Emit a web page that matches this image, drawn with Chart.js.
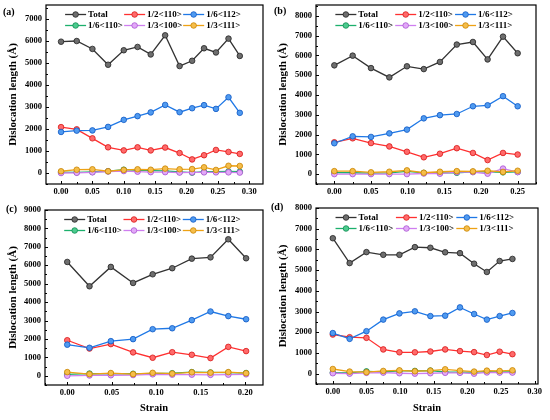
<!DOCTYPE html>
<html>
<head>
<meta charset="utf-8">
<script src="https://cdn.jsdelivr.net/npm/chart.js@4.4.1/dist/chart.umd.min.js"></script>
<style>
  html, body { margin: 0; padding: 0; background: #fff; }
  #wrap { position: relative; width: 550px; height: 420px; overflow: hidden; }
  canvas { position: absolute; }
  .tag { position: absolute; font: bold 10px "Liberation Serif", serif; line-height: 10px; color: #000; }
</style>
</head>
<body>
<div id="wrap">
  <canvas id="chartA" width="270" height="205" style="left:0;top:0"></canvas>
  <canvas id="chartB" width="280" height="205" style="left:270px;top:0"></canvas>
  <canvas id="chartC" width="270" height="220" style="left:0;top:200px"></canvas>
  <canvas id="chartD" width="280" height="220" style="left:270px;top:200px"></canvas>
  <div class="tag" style="left:3px;top:7px">(a)</div>
  <div class="tag" style="left:274px;top:6px">(b)</div>
  <div class="tag" style="left:6px;top:204px">(c)</div>
  <div class="tag" style="left:271px;top:202px">(d)</div>
</div>
<script>
const seriesNames = ['Total', '1/2<110>', '1/6<112>', '1/6<110>', '1/3<100>', '1/3<111>'];

// panel (a)
const strainA = [0, 0.025, 0.05, 0.075, 0.1, 0.122, 0.143, 0.166, 0.189, 0.209, 0.228, 0.247, 0.267, 0.285];
const totalA = [5980, 6010, 5650, 4930, 5590, 5740, 5400, 6270, 4870, 5110, 5680, 5490, 6120, 5330];
const perfectA = [2090, 1990, 1580, 1170, 1030, 1170, 1030, 1160, 910, 620, 810, 1050, 960, 870];
const shockleyA = [1870, 1930, 1940, 2100, 2420, 2590, 2760, 3100, 2770, 2950, 3090, 2920, 3450, 2740];
const stairRodA = [40, 30, 50, 80, 150, 120, 110, 100, 50, 20, 60, 60, 70, 60];
const hirthA = [0, 10, 30, 70, 90, 60, 40, 40, 20, 30, 30, 30, 30, 20];
const frankA = [80, 150, 170, 80, 140, 170, 150, 200, 170, 180, 260, 140, 330, 320];
const xTicksA = [0, 0.05, 0.10, 0.15, 0.20, 0.25, 0.30];
const yTicksA = [0, 1000, 2000, 3000, 4000, 5000, 6000, 7000];

// panel (b)
const strainB = [0, 0.025, 0.05, 0.075, 0.099, 0.122, 0.144, 0.167, 0.189, 0.209, 0.23, 0.25];
const totalB = [5500, 5990, 5360, 4890, 5450, 5310, 5670, 6550, 6680, 5800, 6950, 6110];
const perfectB = [1610, 1810, 1570, 1400, 1130, 850, 1030, 1310, 1070, 710, 1070, 990];
const shockleyB = [1560, 1910, 1880, 2060, 2250, 2820, 2980, 3040, 3430, 3480, 3940, 3430];
const stairRodB = [80, 70, 50, 60, 140, 60, 60, 70, 110, 120, 90, 110];
const hirthB = [0, 0, 0, 0, 0, 30, 20, 100, 100, 20, 280, 100];
const frankB = [150, 150, 90, 120, 190, 70, 120, 150, 140, 170, 110, 170];
const xTicksB = [0, 0.05, 0.10, 0.15, 0.20, 0.25];
const yTicksB = [0, 1000, 2000, 3000, 4000, 5000, 6000, 7000, 8000];

// panel (c)
const strainC = [0, 0.025, 0.049, 0.074, 0.096, 0.118, 0.14, 0.161, 0.181, 0.201];
const totalC = [6180, 4860, 5910, 5040, 5510, 5840, 6360, 6430, 7410, 6380];
const perfectC = [1930, 1480, 1720, 1270, 980, 1280, 1140, 960, 1570, 1340];
const shockleyC = [1690, 1520, 1880, 1990, 2530, 2580, 3020, 3490, 3240, 3070];
const stairRodC = [80, 120, 110, 110, 120, 140, 200, 180, 170, 150];
const hirthC = [0, 20, 30, 40, 80, 60, 60, 50, 60, 80];
const frankC = [200, 90, 150, 90, 160, 120, 190, 170, 200, 140];
const xTicksC = [0, 0.05, 0.10, 0.15, 0.20];
const yTicksC = [0, 1000, 2000, 3000, 4000, 5000, 6000, 7000, 8000, 9000];

// panel (d)
const strainD = [0, 0.025, 0.05, 0.075, 0.099, 0.122, 0.145, 0.167, 0.189, 0.21, 0.229, 0.248, 0.267];
const totalD = [6540, 5340, 5870, 5740, 5740, 6110, 6080, 5860, 5820, 5310, 4910, 5440, 5540];
const perfectD = [1890, 1760, 1730, 1170, 1030, 1030, 1070, 1170, 1090, 1040, 900, 1060, 940];
const shockleyD = [1960, 1680, 2050, 2610, 2910, 3010, 2780, 2800, 3200, 2880, 2610, 2780, 2930];
const stairRodD = [50, 40, 110, 80, 130, 130, 150, 80, 70, 70, 100, 80, 90];
const hirthD = [20, 0, 40, 50, 20, 0, 20, 40, 40, 0, 60, 50, 50];
const frankD = [225, 100, 70, 130, 160, 115, 145, 210, 145, 100, 145, 130, 160];
const xTicksD = [0, 0.05, 0.10, 0.15, 0.20, 0.25, 0.30];
const yTicksD = [0, 1000, 2000, 3000, 4000, 5000, 6000, 7000, 8000];

const styles = [
    { line: '#333333', fill: '#6e6e6e', edge: '#222222', order: 3 },
    { line: '#ff3030', fill: '#ff6a6a', edge: '#d81818', order: 4 },
    { line: '#1f78e6', fill: '#4f9af0', edge: '#0f58c4', order: 2 },
    { line: '#1cb06c', fill: '#4ccb8e', edge: '#0e8a50', order: 6 },
    { line: '#cf7ef0', fill: '#e2a8f8', edge: '#a855d0', order: 5 },
    { line: '#eea214', fill: '#f5bd4a', edge: '#c98400', order: 1 }
];

const serif = '"Liberation Serif", "Times New Roman", serif';
const tickFont = { family: serif, weight: 'bold', size: 8.5 };

// box round the plot plus small inward ticks (major and minor)
const framePlugin = {
    id: 'frame',
    afterDatasetsDraw(chart) {
        const { ctx, chartArea: a, scales: { x, y } } = chart;
        ctx.save();
        ctx.strokeStyle = '#000';
        ctx.lineWidth = 1.2;
        ctx.strokeRect(a.left, a.top, a.right - a.left, a.bottom - a.top);
        ctx.lineWidth = 1;
        ctx.beginPath();
        const xs = x.ticks.map(t => t.value);
        const xStep = xs[1] - xs[0];
        for (let v = xs[0] - xStep; v <= x.max; v += xStep / 2) {
            if (v < x.min) continue;
            const px = Math.round(x.getPixelForValue(v)) + 0.5;
            const major = Math.abs(Math.round(v / xStep) * xStep - v) < 1e-6;
            ctx.moveTo(px, a.bottom);
            ctx.lineTo(px, a.bottom - (major ? 3 : 2));
        }
        const ys = y.ticks.map(t => t.value);
        const yStep = ys[1] - ys[0];
        for (let v = ys[0] - yStep; v <= y.max; v += yStep / 2) {
            if (v < y.min) continue;
            const py = Math.round(y.getPixelForValue(v)) + 0.5;
            const major = Math.abs(Math.round(v / yStep) * yStep - v) < 1e-6;
            ctx.moveTo(a.left, py);
            ctx.lineTo(a.left + (major ? 3 : 2), py);
        }
        ctx.stroke();
        ctx.restore();
    }
};

// two-row legend inside the top of the plot
const legendPlugin = {
    id: 'innerLegend',
    afterDraw(chart) {
        const { ctx, chartArea: a } = chart;
        const w = a.right - a.left;
        const cols = [0.088, 0.36, 0.632];
        const rows = [9.5, 20.5];
        ctx.save();
        ctx.font = 'bold 9px ' + serif;
        ctx.textBaseline = 'middle';
        chart.data.datasets.forEach((ds, i) => {
            const x0 = a.left + cols[i % 3] * w;
            const y0 = a.top + rows[Math.floor(i / 3)];
            ctx.strokeStyle = ds.borderColor;
            ctx.lineWidth = 1.3;
            ctx.beginPath();
            ctx.moveTo(x0, y0);
            ctx.lineTo(x0 + 21, y0);
            ctx.stroke();
            ctx.beginPath();
            ctx.arc(x0 + 10.5, y0, 2.8, 0, Math.PI * 2);
            ctx.fillStyle = ds.pointBackgroundColor;
            ctx.fill();
            ctx.lineWidth = 0.8;
            ctx.strokeStyle = ds.pointBorderColor;
            ctx.stroke();
            ctx.fillStyle = '#000';
            ctx.fillText(ds.label, x0 + 23, y0 + 0.5);
        });
        ctx.restore();
    }
};

function makeChart(id, strain, series, xTicks, yTicks, g) {
    const ctx = document.getElementById(id).getContext('2d');
    return new Chart(ctx, {
        type: 'line',
        data: {
            datasets: series.map((vals, i) => ({
                label: seriesNames[i],
                data: strain.map((s, j) => ({ x: s, y: vals[j] })),
                borderColor: styles[i].line,
                borderWidth: 1.3,
                pointRadius: 2.8,
                pointBorderWidth: 0.8,
                pointBackgroundColor: styles[i].fill,
                pointBorderColor: styles[i].edge,
                tension: 0,
                order: styles[i].order
            }))
        },
        options: {
            responsive: false,
            animation: false,
            layout: {
                padding: { top: g.top, right: g.right, left: 0, bottom: 0 }
            },
            plugins: {
                legend: { display: false },
                tooltip: { enabled: false }
            },
            scales: {
                x: {
                    type: 'linear',
                    bounds: 'data',
                    min: g.xMin,
                    max: g.xMax,
                    grid: { display: false, drawTicks: false },
                    border: { display: false },
                    ticks: {
                        color: '#000',
                        font: tickFont,
                        padding: 3,
                        maxRotation: 0,
                        autoSkip: false,
                        callback: v => v.toFixed(2)
                    },
                    afterBuildTicks: s => { s.ticks = xTicks.map(v => ({ value: v })); },
                    afterFit: s => {
                        s.height = g.xh;
                        s.paddingLeft = 0;
                        s.paddingRight = 0;
                    },
                    title: {
                        display: g.strainTitle,
                        text: 'Strain',
                        color: '#000',
                        font: { family: serif, weight: 'bold', size: 10.5 },
                        padding: { top: 0, bottom: 5 }
                    }
                },
                y: {
                    type: 'linear',
                    bounds: 'data',
                    min: -500,
                    max: g.yMax,
                    grid: { display: false, drawTicks: false },
                    border: { display: false },
                    ticks: {
                        color: '#000',
                        font: tickFont,
                        padding: 4,
                        autoSkip: false,
                        callback: v => String(v)
                    },
                    afterBuildTicks: s => { s.ticks = yTicks.map(v => ({ value: v })); },
                    afterFit: s => {
                        s.width = g.yw;
                        s.paddingTop = 0;
                        s.paddingBottom = 0;
                    },
                    title: {
                        display: true,
                        text: 'Dislocation length (Å)',
                        color: '#000',
                        font: { family: serif, weight: 'bold', size: 11 },
                        padding: { top: 6.4, bottom: 0 }
                    }
                }
            }
        },
        plugins: [framePlugin, legendPlugin]
    });
}

makeChart('chartA', strainA, [totalA, perfectA, shockleyA, stairRodA, hirthA, frankA], xTicksA, yTicksA,
    { yw: 46, top: 5, right: 7, xh: 21, xMin: -0.024, xMax: 0.322, yMax: 7650, strainTitle: false });
makeChart('chartB', strainB, [totalB, perfectB, shockleyB, stairRodB, hirthB, frankB], xTicksB, yTicksB,
    { yw: 46, top: 5, right: 14, xh: 21, xMin: -0.025, xMax: 0.275, yMax: 8550, strainTitle: false });
makeChart('chartC', strainC, [totalC, perfectC, shockleyC, stairRodC, hirthC, frankC], xTicksC, yTicksC,
    { yw: 45, top: 10, right: 7, xh: 35, xMin: -0.025, xMax: 0.22, yMax: 9000, strainTitle: true });
makeChart('chartD', strainD, [totalD, perfectD, shockleyD, stairRodD, hirthD, frankD], xTicksD, yTicksD,
    { yw: 46, top: 8, right: 12, xh: 36, xMin: -0.025, xMax: 0.305, yMax: 8000, strainTitle: true });
</script>
</body>
</html>
